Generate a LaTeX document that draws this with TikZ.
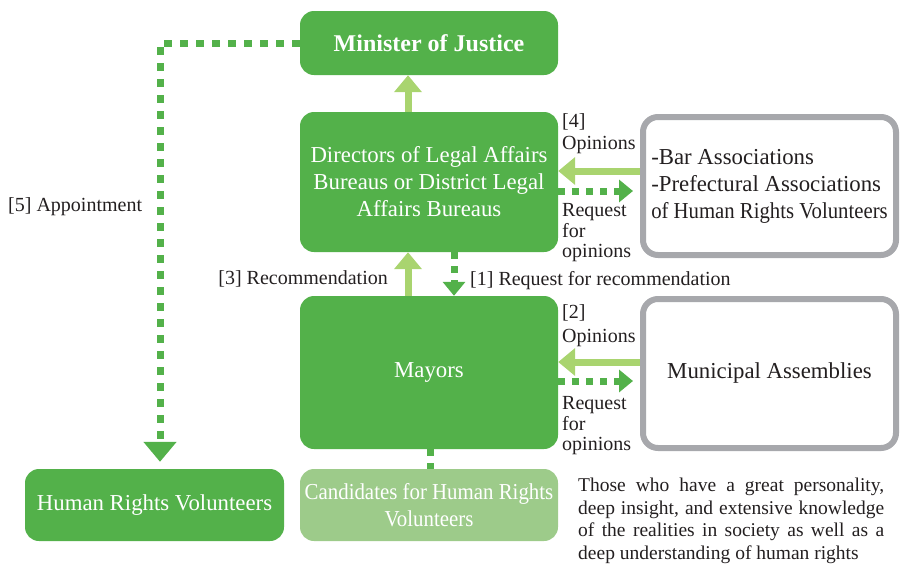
\documentclass[tikz,border=0pt]{standalone}
\usepackage{fontspec}
\setmainfont{Liberation Serif}
\newfontfamily\condfont[FakeStretch=0.915]{Liberation Serif}
\newfontfamily\condfontb[FakeStretch=0.91]{Liberation Serif}
\usetikzlibrary{arrows.meta}
\definecolor{dgreen}{HTML}{53B14A}
\definecolor{lgreen}{HTML}{A9D46F}
\definecolor{lbox}{HTML}{9DCB8A}
\definecolor{grayb}{HTML}{A7A8AC}
\definecolor{tgray}{HTML}{231F20}
\tikzset{
  greenbox/.style={fill=dgreen, rounded corners=14pt, text=white, align=center, inner sep=0pt,
    font=\fontsize{22.8}{27}\selectfont},
  graybox/.style={draw=grayb, line width=6pt, fill=white, rounded corners=15pt, text=tgray,
    inner sep=0pt, font=\fontsize{22.8}{27}\selectfont},
  lightarrow/.style={draw=lgreen, line width=7pt, -{Triangle[width=27pt,length=17pt]}},
  dotarrow/.style={draw=dgreen, line width=7pt, dash pattern=on 7pt off 7pt,
    -{Triangle[width=22pt,length=14pt]}},
  lbl/.style={font=\fontsize{20}{22}\selectfont, text=tgray, inner sep=0pt}
}
\begin{document}
\begin{tikzpicture}[x=1pt,y=-1pt]
\useasboundingbox (0,0) rectangle (902,563);

% boxes
\node[greenbox, minimum width=258pt, minimum height=64pt,
      font=\bfseries\fontsize{24}{28}\selectfont] (min) at (429,43) {Minister of Justice};
\node[greenbox, minimum width=258pt, minimum height=140pt] (dir) at (429,182)
  {Directors of Legal Affairs\\Bureaus or District Legal\\Affairs Bureaus};
\node[greenbox, minimum width=258pt, minimum height=153pt] (may) at (429,372.5) {Mayors};
\node[greenbox, minimum width=259pt, minimum height=72pt] (hrv) at (154.5,505) {Human Rights Volunteers};
\node[greenbox, fill=lbox, minimum width=258pt, minimum height=72pt,
      font={\condfont\fontsize{22.8}{27}\selectfont}] (cand) at (429,505)
  {Candidates for Human Rights\\Volunteers};
\node[graybox, minimum width=253pt, minimum height=138pt, align=left] (bar) at (769.5,186)
  {-Bar Associations\\-Prefectural Associations\\{\condfontb of Human Rights Volunteers}};
\node[graybox, minimum width=253pt, minimum height=149pt] (mun) at (769.5,373.5) {Municipal Assemblies};

% description
\node[lbl, font=\fontsize{19.5}{22.5}\selectfont, anchor=north west, align=left] (desc) at (578,478)
  {\makebox[306pt][s]{Those who have a great personality,}\\
   \makebox[306pt][s]{deep insight, and extensive knowledge}\\
   \makebox[306pt][s]{of the realities in society as well as a}\\
   deep understanding of human rights};

% connectors
\draw[lightarrow] ([xshift=-21pt]dir.north) -- ([xshift=-21pt]min.south);
\draw[lightarrow] ([xshift=-21pt]may.north) -- ([xshift=-21pt]dir.south);
\draw[dotarrow] ([xshift=25pt]dir.south) -- ([xshift=25pt]may.north);
\draw[lightarrow] (bar.west |- 0,171) -- (dir.east |- 0,171);
\draw[dotarrow] (dir.east |- 0,191) -- ([xshift=-7pt]bar.west |- 0,191);
\draw[lightarrow] (mun.west |- 0,362) -- (may.east |- 0,362);
\draw[dotarrow] (may.east |- 0,381) -- ([xshift=-7pt]mun.west |- 0,381);
\draw[draw=dgreen, line width=7pt, dash pattern=on 7pt off 7pt] ([xshift=1pt]may.south) -- ([xshift=1pt]cand.north);
\draw[draw=dgreen, line width=7pt, dash pattern=on 8pt off 8pt,
      -{Triangle[width=32pt,length=20pt]}]
  (min.west) -| ([xshift=5.5pt,yshift=7pt]hrv.north);

% labels
\node[lbl, anchor=base east] (l3) at (388,284) {[3] Recommendation};
\node[lbl, anchor=base west] (l1) at (470,285) {[1] Request for recommendation};
\node[lbl, anchor=base west] (l5) at (8,211) {[5] Appointment};
\node[lbl, anchor=base west] (l4a) at (562,127) {[4]};
\node[lbl, anchor=base west] (l4b) at (562,149) {Opinions};
\node[lbl, anchor=base west] (r1a) at (562,216) {Request};
\node[lbl, anchor=base west] (r1b) at (562,237) {for};
\node[lbl, anchor=base west] (r1c) at (562,257) {opinions};
\node[lbl, anchor=base west] (l2a) at (562,318) {[2]};
\node[lbl, anchor=base west] (l2b) at (562,342) {Opinions};
\node[lbl, anchor=base west] (r2a) at (562,409) {Request};
\node[lbl, anchor=base west] (r2b) at (562,430) {for};
\node[lbl, anchor=base west] (r2c) at (562,450) {opinions};
\end{tikzpicture}
\end{document}
